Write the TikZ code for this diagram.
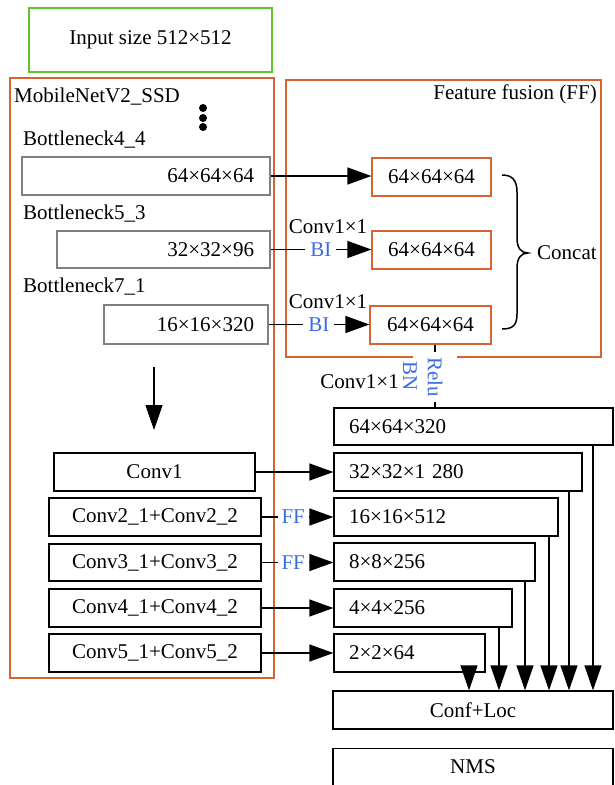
\documentclass[tikz,border=0pt]{standalone}
\usepackage{fontspec}
\setmainfont{Liberation Serif}
\usetikzlibrary{arrows.meta}
\definecolor{frameor}{RGB}{214,100,48}
\definecolor{inputgr}{RGB}{96,196,40}
\definecolor{opblue}{RGB}{58,108,228}
\definecolor{bngray}{RGB}{128,128,128}
\tikzset{
  every node/.style={font=\fontsize{21}{25}\selectfont},
  bx/.style={draw=black, line width=1.2pt, inner ysep=0pt, inner xsep=0pt},
  bneck/.style={draw=bngray, line width=1.1pt, inner ysep=0pt, align=right},
  ffbox/.style={draw=frameor, line width=1.2pt, inner ysep=0pt, inner xsep=0pt},
  feat/.style={bx, align=left, inner xsep=15pt},
  lbl/.style={inner sep=0pt},
  oplbl/.style={text=opblue, fill=white, inner xsep=5pt, inner ysep=1pt},
  frame/.style={draw=frameor, line width=1.2pt},
  harr/.style={line width=1.2pt, -{Triangle[length=24pt,width=17pt]}},
  varr/.style={line width=1.2pt, -{Triangle[length=25pt,width=17pt]}},
}
\begin{document}
\begin{tikzpicture}[x=1pt, y=-1pt]
\useasboundingbox (0,0) rectangle (614,785);

% input
\node[draw=inputgr, line width=1.2pt, minimum width=243pt, minimum height=64pt, inner sep=0pt] (inp) at (150.5,40) {Input size 512×512};

% backbone frame and feature-fusion frame (with a gap at its bottom)
\draw[frame] (10,78) rectangle (274,678);
\draw[frame] (413,357) -- (286,357) -- (286,80) -- (601,80) -- (601,357) -- (457,357);

\node[lbl, anchor=west] (mob) at (14,97) {MobileNetV2\_SSD};
\node[lbl, anchor=east] (fft) at (597,94) {Feature fusion (FF)};
\fill (203,108) circle (4pt) (203,118) circle (4pt) (203,127) circle (4pt);

% bottleneck outputs
\node[lbl, anchor=west] (l44) at (23,140) {Bottleneck4\_4};
\node[bneck, minimum width=248pt, minimum height=38pt, text width=216pt, inner xsep=16pt] (b1) at (146,176) {64×64×64};
\node[lbl, anchor=west] (l53) at (23,214) {Bottleneck5\_3};
\node[bneck, minimum width=213pt, minimum height=37pt, text width=181pt, inner xsep=16pt] (b2) at (163.5,249.5) {32×32×96};
\node[lbl, anchor=west] (l71) at (23,287) {Bottleneck7\_1};
\node[bneck, minimum width=164pt, minimum height=39pt, text width=136pt, inner xsep=14pt] (b3) at (186,324.5) {16×16×320};

% feature fusion
\node[ffbox, minimum width=119pt, minimum height=38pt] (ff1) at (431.5,177) {64×64×64};
\node[ffbox, minimum width=119pt, minimum height=38pt] (ff2) at (431.5,250) {64×64×64};
\node[ffbox, minimum width=121pt, minimum height=38pt] (ff3) at (430.5,325) {64×64×64};

\draw[harr] (b1.east) -- (b1.east -| ff1.west);
\draw[harr] (b2.east) -- node[oplbl] (bi1) {BI} (b2.east -| ff2.west);
\draw[harr] (b3.east) -- node[oplbl] (bi2) {BI} (b3.east -| ff3.west);
\node[lbl] (cv1) at (328,227) {Conv1×1};
\node[lbl] (cv2) at (328,302) {Conv1×1};

\draw[line width=1.5pt] (502,175) .. controls (512,175) and (517,180) .. (517,192)
  -- (517,238) .. controls (517,248) and (521,253) .. (528,253)
  .. controls (521,253) and (517,258) .. (517,268)
  -- (517,314) .. controls (517,326) and (512,329) .. (502,329);
\node[lbl, anchor=west] (cat) at (537,253) {Concat};

% fused map output
\coordinate (rl) at (435,377);
\node[lbl, anchor=east] (cv3) at (399,382) {Conv1×1};
\node[lbl, text=opblue, rotate=-90] (bn) at (410,376) {BN};

% detection feature maps
\node[feat, minimum width=279pt, minimum height=37pt, text width=249pt] (c1) at (473.5,426.5) {64×64×320};
\node[feat, minimum width=248pt, minimum height=38pt, text width=218pt] (c2) at (458,472) {32×32×1 280};
\node[feat, minimum width=224pt, minimum height=38pt, text width=194pt] (c3) at (446,517) {16×16×512};
\node[feat, minimum width=201pt, minimum height=38pt, text width=171pt] (c4) at (434.5,562) {8×8×256};
\node[feat, minimum width=178pt, minimum height=38pt, text width=148pt] (c5) at (423,608) {4×4×256};
\node[feat, minimum width=151pt, minimum height=38pt, text width=121pt] (c6) at (409.5,653) {2×2×64};

\draw[line width=1.2pt] (ff3.south -| rl) -- (c1.north -| rl);
\node[oplbl, rotate=-90, inner xsep=5pt, inner ysep=2pt] (relu) at (rl) {Relu};

% extra layers
\node[bx, minimum width=201pt, minimum height=38pt] (L1) at (154.5,472) {Conv1};
\node[bx, minimum width=212pt, minimum height=38pt] (L2) at (155,517) {Conv2\_1+Conv2\_2};
\node[bx, minimum width=212pt, minimum height=37pt] (L3) at (155,562.5) {Conv3\_1+Conv3\_2};
\node[bx, minimum width=212pt, minimum height=38pt] (L4) at (155,608) {Conv4\_1+Conv4\_2};
\node[bx, minimum width=212pt, minimum height=38pt] (L5) at (155,653) {Conv5\_1+Conv5\_2};

\coordinate (dtop) at (154,367);
\coordinate (dbot) at (154,430);
\draw[varr] (dtop) -- (dbot);

\draw[harr] (L1.east) -- (L1.east -| c2.west);
\draw[harr] (L2.east) -- node[oplbl, pos=0.44, inner xsep=4pt] (fa) {FF} (L2.east -| c3.west);
\draw[harr] (L3.east) -- node[oplbl, pos=0.44, inner xsep=4pt] (fb) {FF} (L3.east -| c4.west);
\draw[harr] (L4.east) -- (L4.east -| c5.west);
\draw[harr] (L5.east) -- (L5.east -| c6.west);

% heads
\node[bx, minimum width=280pt, minimum height=38pt] (conf) at (473,710) {Conf+Loc};
\node[bx, minimum width=280pt, anchor=north, text height=24.5pt, text depth=30pt] (nms) at (473,748) {NMS};

\coordinate (v1) at (469,0);
\coordinate (v2) at (499,0);
\coordinate (v3) at (525,0);
\coordinate (v4) at (549,0);
\coordinate (v5) at (569,0);
\coordinate (v6) at (593,0);
\draw[varr] (c6.south -| v1) -- (conf.north -| v1);
\draw[varr] (c5.south -| v2) -- (conf.north -| v2);
\draw[varr] (c4.south -| v3) -- (conf.north -| v3);
\draw[varr] (c3.south -| v4) -- (conf.north -| v4);
\draw[varr] (c2.south -| v5) -- (conf.north -| v5);
\draw[varr] (c1.south -| v6) -- (conf.north -| v6);
\end{tikzpicture}
\end{document}
